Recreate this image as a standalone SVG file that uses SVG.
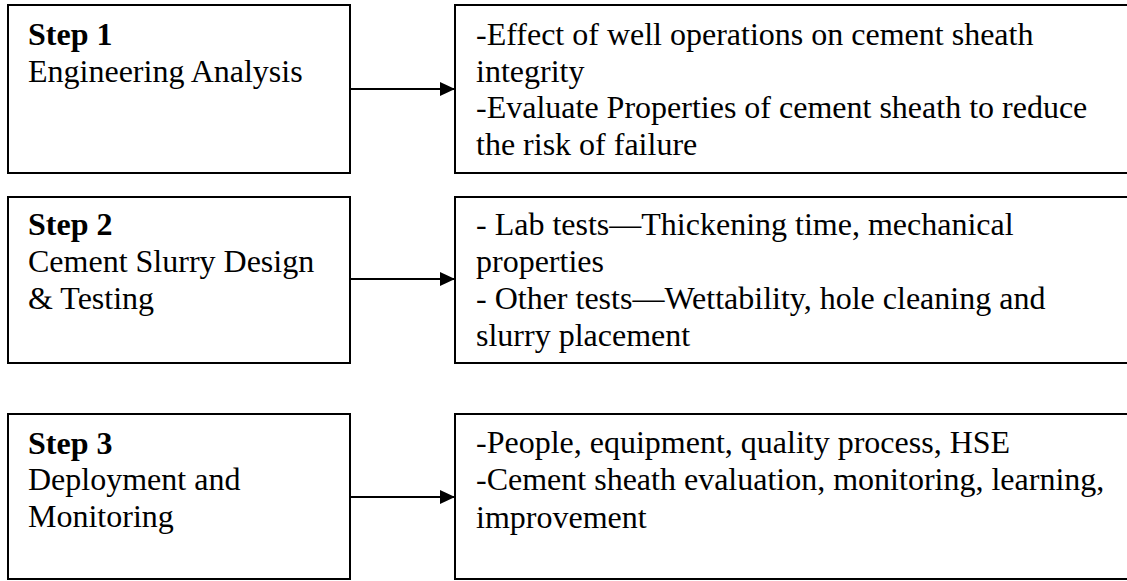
<svg xmlns="http://www.w3.org/2000/svg" width="1127" height="581" viewBox="0 0 1127 581">
<style>
.box{fill:#fff;stroke:#000;stroke-width:2}
.t{font-family:"Liberation Serif","Times New Roman",serif;font-size:32px;fill:#000}
.b{font-weight:bold}
.c{stroke:#000;stroke-width:2;fill:none}
</style>
<defs>
<marker id="ah" markerUnits="userSpaceOnUse" markerWidth="16" markerHeight="16" refX="15" refY="7" orient="auto">
<path d="M0,0 L15,7 L0,14 Z" fill="#000"/>
</marker>
</defs>
<rect width="1127" height="581" fill="#fff"/>
<g id="step1">
<rect class="box" x="8" y="5" width="342" height="168"/>
<text class="t b" x="28" y="45">Step 1</text>
<text class="t" x="28" y="82">Engineering Analysis</text>
</g>
<g id="detail1">
<rect class="box" x="455" y="5" width="680" height="168"/>
<text class="t" x="476" y="45">-Effect of well operations on cement sheath</text>
<text class="t" x="476" y="82">integrity</text>
<text class="t" x="476" y="118">-Evaluate Properties of cement sheath to reduce</text>
<text class="t" x="476" y="155">the risk of failure</text>
</g>
<g id="step2">
<rect class="box" x="8" y="197" width="342" height="166"/>
<text class="t b" x="28" y="235">Step 2</text>
<text class="t" x="28" y="272">Cement Slurry Design</text>
<text class="t" x="28" y="309">&amp; Testing</text>
</g>
<g id="detail2">
<rect class="box" x="455" y="197" width="680" height="166"/>
<text class="t" x="476" y="235">- Lab tests—Thickening time, mechanical</text>
<text class="t" x="476" y="272">properties</text>
<text class="t" x="476" y="309">- Other tests—Wettability, hole cleaning and</text>
<text class="t" x="476" y="346">slurry placement</text>
</g>
<g id="step3">
<rect class="box" x="8" y="414" width="342" height="165"/>
<text class="t b" x="28" y="454">Step 3</text>
<text class="t" x="28" y="490">Deployment and</text>
<text class="t" x="28" y="527">Monitoring</text>
</g>
<g id="detail3">
<rect class="box" x="455" y="414" width="680" height="165"/>
<text class="t" x="476" y="453">-People, equipment, quality process, HSE</text>
<text class="t" x="476" y="490">-Cement sheath evaluation, monitoring, learning,</text>
<text class="t" x="476" y="528">improvement</text>
</g>
<g id="connectors">
<line class="c" x1="350" y1="89" x2="455" y2="89" marker-end="url(#ah)"/>
<line class="c" x1="350" y1="279" x2="455" y2="279" marker-end="url(#ah)"/>
<line class="c" x1="350" y1="497" x2="455" y2="497" marker-end="url(#ah)"/>
</g>
</svg>
